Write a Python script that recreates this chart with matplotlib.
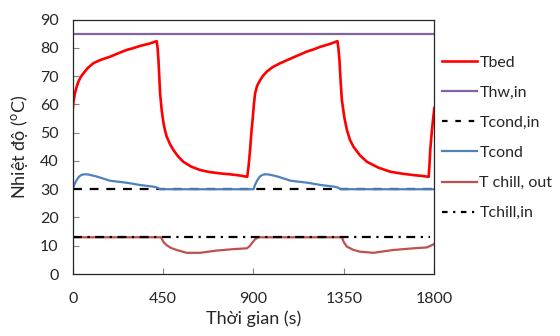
import matplotlib
matplotlib.use("Agg")
import matplotlib.pyplot as plt
from matplotlib.lines import Line2D

plt.rcParams['font.family'] = ['Lato', 'DejaVu Sans']

# ---- data ----
t_bed = [0, 4, 11, 20, 28, 40, 53, 75, 103, 140, 186, 230, 269, 300, 335, 380, 418, 423, 427,
         431, 435, 443, 452, 460, 468, 485, 501, 525, 551, 590, 634, 680, 734, 780, 817, 845,
         869, 876, 883, 890, 897, 902, 908, 918, 933, 948, 966, 995, 1033, 1100, 1165, 1200,
         1232, 1280, 1318, 1323, 1328, 1334, 1340, 1352, 1365, 1380, 1398, 1430, 1465, 1520,
         1581, 1640, 1697, 1740, 1772, 1776, 1780, 1786, 1792, 1800]
T_bed = [58.0, 61.0, 63.9, 66.3, 68.0, 69.7, 71.0, 72.9, 74.6, 75.8, 76.9, 78.2, 79.3, 79.9,
         80.7, 81.5, 82.4, 79.8, 75.7, 70.0, 64.0, 58.0, 53.4, 50.7, 48.6, 45.9, 43.9, 41.6,
         39.7, 38.0, 36.8, 36.1, 35.6, 35.3, 35.0, 34.7, 34.4, 38.5, 43.9, 50.5, 55.7, 60.0,
         63.9, 66.6, 68.6, 70.2, 71.6, 73.2, 74.6, 76.7, 78.7, 79.5, 80.4, 81.4, 82.4, 79.8,
         75.7, 68.0, 61.6, 55.5, 51.0, 47.5, 45.0, 42.0, 39.7, 37.7, 36.2, 35.5, 35.0, 34.7,
         34.4, 38.5, 43.9, 49.0, 53.4, 58.7]

t_hw = [0, 1800]
T_hw_in = [85, 85]

t_cond_in = [0, 1800]
T_cond_in = [30, 30]

t_cond = [0, 8, 20, 32, 45, 60, 78, 120, 186, 269, 335, 402, 420, 435, 900, 908, 920, 932,
          945, 960, 978, 1020, 1086, 1169, 1235, 1302, 1320, 1335, 1800]
T_cond = [30, 31.6, 33.3, 34.5, 35.1, 35.3, 35.2, 34.5, 33.0, 32.3, 31.5, 30.9, 30.6, 30, 30,
          31.6, 33.3, 34.5, 35.1, 35.3, 35.2, 34.5, 33.0, 32.3, 31.5, 30.9, 30.6, 30, 30]

t_chill = [0, 440, 452, 468, 490, 518, 568, 634, 717, 800, 867, 880, 892, 908, 925, 1340,
           1350, 1365, 1395, 1430, 1497, 1596, 1697, 1763, 1800]
T_chill_out = [13, 13, 11.3, 10.2, 9.2, 8.5, 7.5, 7.5, 8.3, 8.8, 9.1, 9.8, 10.9, 12.3, 13, 13,
               11.2, 9.7, 8.6, 7.9, 7.5, 8.5, 9.1, 9.4, 10.6]

t_chill_in = [0, 1780]
T_chill_in = [13, 13]

x_ticks = [0, 450, 900, 1350, 1800]
y_ticks = [0, 10, 20, 30, 40, 50, 60, 70, 80, 90]

labels = ['Tbed', 'Thw,in', 'Tcond,in', 'Tcond', 'T chill, out', 'Tchill,in']

# ---- figure ----
fig = plt.figure(figsize=(5.6, 3.36), dpi=100)
ax = fig.add_axes([0.1298, 0.1845, 0.6457, 0.7569])

l1, = ax.plot(t_bed, T_bed, color='#FF0000', lw=1.9, solid_joinstyle='round')
l2, = ax.plot(t_hw, T_hw_in, color='#8064A2', lw=1.6)
l3, = ax.plot(t_cond_in, T_cond_in, color='black', lw=1.6, dashes=(4, 3.5))
l4, = ax.plot(t_cond, T_cond, color='#4F81BD', lw=1.6, solid_joinstyle='round')
l5, = ax.plot(t_chill, T_chill_out, color='#C0504D', lw=1.6, solid_joinstyle='round')
l6, = ax.plot(t_chill_in, T_chill_in, color='black', lw=1.6, dashes=(4, 2.5, 1, 2.5))

ax.set_xlim(0, 1800)
ax.set_ylim(0, 90)
ax.set_xticks(x_ticks)
ax.set_yticks(y_ticks)
ax.tick_params(direction='in', length=4, width=0.8, color='#868686',
               labelsize=11.5, labelcolor='#262626', pad=10)
ax.tick_params(axis='x', pad=13)
for s in ax.spines.values():
    s.set_color('#262626')
    s.set_linewidth(0.9)

ax.set_xlabel('Thời gian (s)', fontsize=13, color='#262626', labelpad=3)
ax.set_ylabel('Nhiệt độ ($^{\\mathregular{o}}$C)', fontsize=13, color='#262626', labelpad=7)

handles = [Line2D([], [], color='#FF0000', lw=1.9),
           Line2D([], [], color='#8064A2', lw=1.6),
           Line2D([], [], color='black', lw=1.6, dashes=(2.5, 3.5)),
           Line2D([], [], color='#4F81BD', lw=1.6),
           Line2D([], [], color='#C0504D', lw=1.6),
           Line2D([], [], color='black', lw=1.6, dashes=(2.5, 2.5, 1, 2.5))]
fig.legend(handles, labels, loc='upper left', bbox_to_anchor=(0.789, 0.835),
           frameon=False, fontsize=11.5, handlelength=2.2, handletextpad=0.15,
           labelspacing=1.0, borderaxespad=0, borderpad=0, labelcolor='#262626')

fig.savefig('out.png', dpi=100)
